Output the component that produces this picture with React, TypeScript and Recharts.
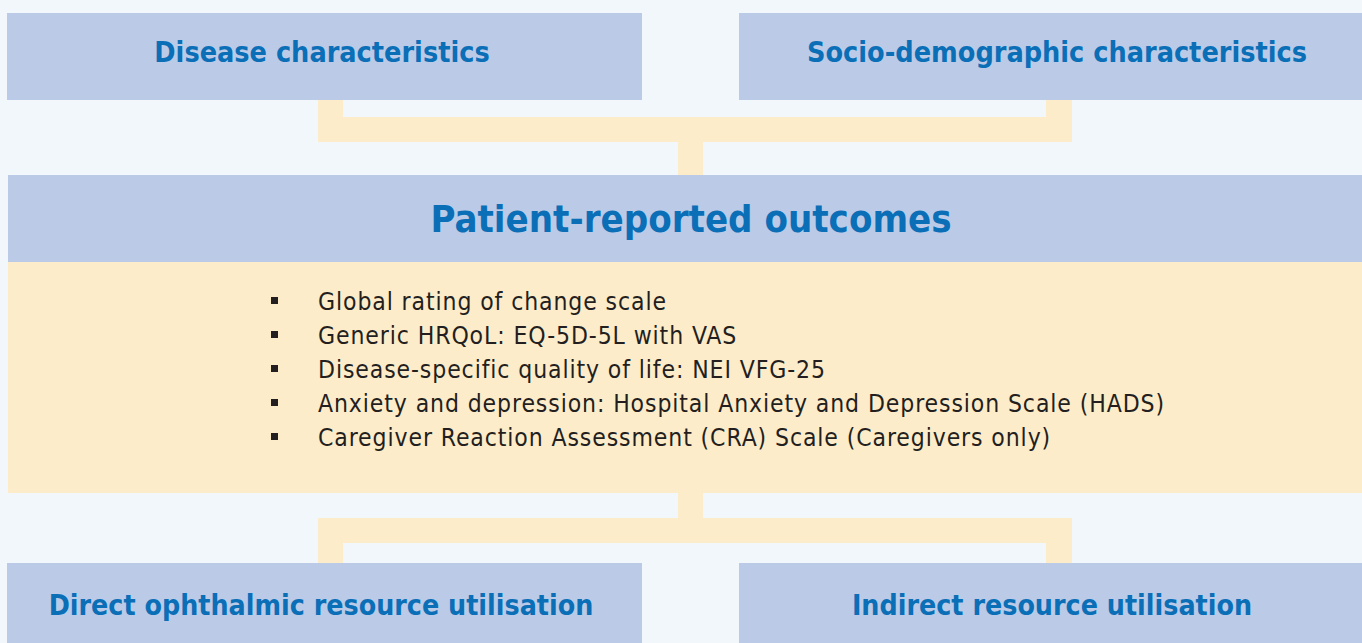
import React from 'react';
import { ComposedChart, XAxis, YAxis, ReferenceArea, Scatter } from 'recharts';

// diagram content
const inputBoxes = ['Disease characteristics', 'Socio-demographic characteristics'];
const outcomeTitle = 'Patient-reported outcomes';
const outcomeItems = [
  'Global rating of change scale',
  'Generic HRQoL: EQ-5D-5L with VAS',
  'Disease-specific quality of life: NEI VFG-25',
  'Anxiety and depression: Hospital Anxiety and Depression Scale (HADS)',
  'Caregiver Reaction Assessment (CRA) Scale (Caregivers only)',
];
const resultBoxes = ['Direct ophthalmic resource utilisation', 'Indirect resource utilisation'];

// layout
const W = 1362;
const H = 643;
const BG = '#f2f7fc';
const BOX = '#bbcbe7';
const YELLOW = '#fdecc9';
const TITLE = '#0a6fb7';
const BODY = '#231f20';
const FONT = '"DejaVu Sans Condensed", "Liberation Sans Narrow", sans-serif';

const leftCol = { x1: 7, x2: 642, tx: 322 };
const rightCol = { x1: 739, x2: W, tx: 1057 };
const topRow = { y1: 13, y2: 100, base: 62 };
const bottomRow = { y1: 563, y2: H, base: 615 };
const header = { x1: 8, x2: W, y1: 175, y2: 262, base: 232, tx: 691 };
const panel = { x1: 8, x2: W, y1: 262, y2: 493 };

const connectors = [
  [318, 343, 100, 142],
  [1046, 1072, 100, 142],
  [318, 1072, 117, 142],
  [678, 703, 142, 175],
  [678, 703, 493, 543],
  [318, 1072, 518, 543],
  [318, 343, 518, 563],
  [1046, 1072, 518, 563],
];

const listX = 271;
const listTop = 310;
const lineGap = 34;

const listData = outcomeItems.map((t, i) => ({ x: listX, y: listTop + i * lineGap, t }));

const titleLabel = (text: string, tx: number, base: number, size: number) => (props: any) => {
  return (
    <text x={tx} y={base} textAnchor="middle" fill={TITLE} fontFamily={FONT} fontWeight="bold" fontSize={size}>
      {text}
    </text>
  );
};

const ListRow = (props: any) => {
  const { cx, cy, payload } = props;
  return (
    <g>
      <rect x={cx} y={cy - 13} width={7} height={7} fill={BODY} />
      <text x={cx + 47} y={cy} fill={BODY} fontFamily={FONT} fontSize={24.5} letterSpacing={0.9}>
        {payload.t}
      </text>
    </g>
  );
};

export default function App() {
  const cols = [leftCol, rightCol];
  return (
    <div style={{ position: 'absolute', left: 0, top: 0, width: W, height: H, background: BG }}>
      <ComposedChart width={W} height={H} margin={{ top: 0, right: 0, bottom: 0, left: 0 }}>
        <XAxis type="number" dataKey="x" domain={[0, W]} hide allowDataOverflow />
        <YAxis type="number" dataKey="y" domain={[0, H]} reversed hide allowDataOverflow />

        {connectors.map((c, i) => (
          <ReferenceArea key={'c' + i} x1={c[0]} x2={c[1]} y1={c[2]} y2={c[3]} fill={YELLOW} fillOpacity={1} stroke="none" />
        ))}

        {inputBoxes.map((t, i) => (
          <ReferenceArea
            key={'in' + i}
            x1={cols[i].x1}
            x2={cols[i].x2}
            y1={topRow.y1}
            y2={topRow.y2}
            fill={BOX}
            fillOpacity={1}
            stroke="none"
            label={titleLabel(t, cols[i].tx, topRow.base, 28.5)}
          />
        ))}

        <ReferenceArea
          x1={header.x1}
          x2={header.x2}
          y1={header.y1}
          y2={header.y2}
          fill={BOX}
          fillOpacity={1}
          stroke="none"
          label={titleLabel(outcomeTitle, header.tx, header.base, 38)}
        />
        <ReferenceArea x1={panel.x1} x2={panel.x2} y1={panel.y1} y2={panel.y2} fill={YELLOW} fillOpacity={1} stroke="none" />

        {resultBoxes.map((t, i) => (
          <ReferenceArea
            key={'out' + i}
            x1={cols[i].x1}
            x2={cols[i].x2}
            y1={bottomRow.y1}
            y2={bottomRow.y2}
            fill={BOX}
            fillOpacity={1}
            stroke="none"
            label={titleLabel(t, i === 0 ? 321 : 1052, bottomRow.base, 28.3)}
          />
        ))}

        <Scatter data={listData} dataKey="y" shape={<ListRow />} isAnimationActive={false} />
      </ComposedChart>
    </div>
  );
}
